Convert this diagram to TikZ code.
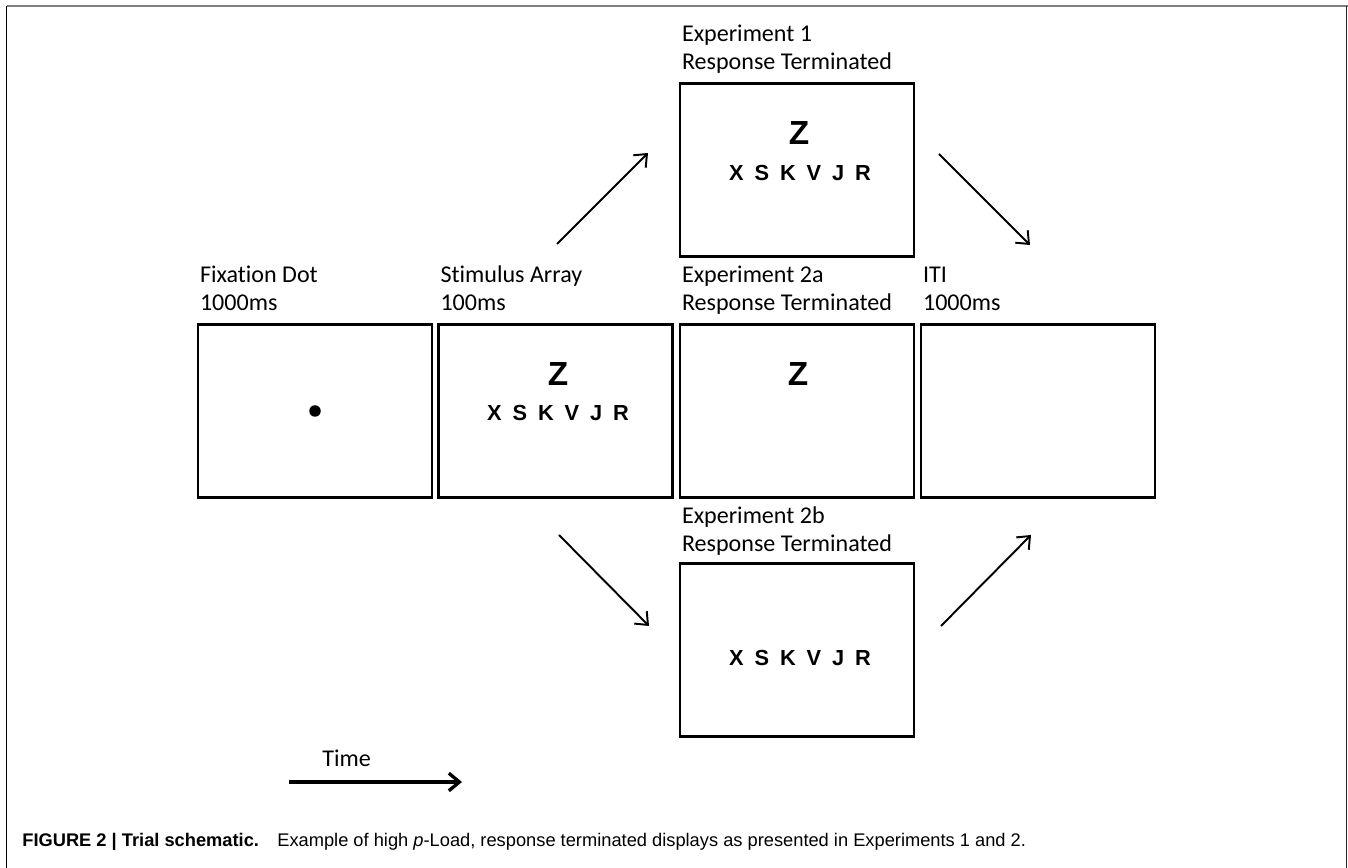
\documentclass[tikz,border=0pt]{standalone}
\usepackage{fontspec}
\usepackage{tikz}
\usetikzlibrary{arrows.meta, calc, positioning}
\setmainfont{Carlito}[Ligatures=CommonOff]
\newfontfamily\capfont{Liberation Sans}
\definecolor{rulegray}{HTML}{7F7F7F}
\definecolor{ink}{HTML}{000000}

\begin{document}
\begin{tikzpicture}[
  screen/.style = {draw=ink, line width=1.5pt, minimum width=4.68cm, minimum height=3.46cm, inner sep=0pt},
  lbl/.style    = {anchor=south west, align=left, inner sep=0pt, text depth=0pt, font=\fontsize{13.7}{16.3}\selectfont},
  bigz/.style   = {font=\capfont\bfseries\fontsize{19}{21}\selectfont, inner sep=0pt},
  row/.style    = {font=\capfont\bfseries\fontsize{12.4}{14}\selectfont, inner sep=0pt},
  arr/.style    = {-{Straight Barb[length=6pt,width=10pt]}, line width=1.1pt},
  timearr/.style= {-{Straight Barb[length=6pt,width=10pt]}, line width=1.9pt},
]
\useasboundingbox (0,0) rectangle (26.96,17.36);
%%--- outer frame ---
\draw[rulegray, line width=0.9pt] (0.13,17.24) -- (26.96,17.24);
\draw[ink, line width=0.8pt] (0.13,17.24) -- (0.13,0);
\draw[ink!85, line width=1.1pt] (26.93,17.24) -- (26.93,0);
%%--- middle row of screens ---
\node[screen] (fix)     at (6.30,  9.14) {};
\node[screen] (stim)    at (11.11, 9.14) {};
\node[screen] (exptwoa) at (15.94, 9.14) {};
\node[screen] (iti)     at (20.76, 9.14) {};
%%--- upper / lower branch ---
\node[screen] (expone)  at (15.94, 13.96) {};
\node[screen] (exptwob) at (15.94, 4.36) {};
%%--- labels above the screens ---
\node[lbl] (fixl)     at ($(fix.north west)+(0.06,0.24)$)     {Fixation Dot\\1000ms};
\node[lbl] (stiml)    at ($(stim.north west)+(0.06,0.24)$)    {Stimulus Array\\100ms};
\node[lbl] (exptwoal) at ($(exptwoa.north west)+(0.06,0.24)$) {Experiment 2a\\Response Terminated};
\node[lbl] (itil)     at ($(iti.north west)+(0.06,0.24)$)     {ITI\\1000ms};
\node[lbl] (exponel)  at ($(expone.north west)+(0.06,0.24)$)  {Experiment 1\\Response Terminated};
\node[lbl] (exptwobl) at ($(exptwob.north west)+(0.06,0.20)$) {Experiment 2b\\Response Terminated};
%%--- screen contents ---
\fill[ink] (fix.center) circle (0.115);
\node[bigz] (stimz)    at ($(stim.center)+(0.05,0.74)$)    {Z};
\node[row]  (stimrow)  at ($(stim.center)+(0.05,-0.04)$)   {X\enspace S\enspace K\enspace V\enspace J\enspace R};
\node[bigz] (exponez)  at ($(expone.center)+(0.04,0.74)$)  {Z};
\node[row]  (exponerow) at ($(expone.center)+(0.06,-0.06)$) {X\enspace S\enspace K\enspace V\enspace J\enspace R};
\node[bigz] (exptwoaz) at ($(exptwoa.center)+(0.02,0.74)$) {Z};
\node[row]  (exptwobrow) at ($(exptwob.center)+(0.06,-0.16)$) {X\enspace S\enspace K\enspace V\enspace J\enspace R};
%%--- branch arrows (free-standing) ---
\coordinate (ua0) at (11.14,12.48); \coordinate (ua1) at (12.96,14.30);
\coordinate (ub0) at (18.78,14.28); \coordinate (ub1) at (20.60,12.46);
\coordinate (la0) at (11.18,6.66);  \coordinate (la1) at (12.98,4.84);
\coordinate (lb0) at (18.82,4.84);  \coordinate (lb1) at (20.62,6.66);
\draw[arr] (ua0) -- (ua1);
\draw[arr] (ub0) -- (ub1);
\draw[arr] (la0) -- (la1);
\draw[arr] (lb0) -- (lb1);
%%--- time axis ---
\node[lbl, anchor=base west] (timel) at (6.44,2.02) {Time};
\coordinate (t0) at (5.78,1.72); \coordinate (t1) at (9.24,1.72);
\draw[timearr] (t0) -- (t1);
%%--- caption ---
\node[anchor=base west, inner sep=0pt, font=\capfont\fontsize{10.4}{12}\selectfont] (caption) at (0.44,0.42)
  {\textbf{FIGURE 2 | Trial schematic.}\quad Example of high \textit{p}-Load, response terminated displays as presented in Experiments 1 and 2.};
\end{tikzpicture}
\end{document}
